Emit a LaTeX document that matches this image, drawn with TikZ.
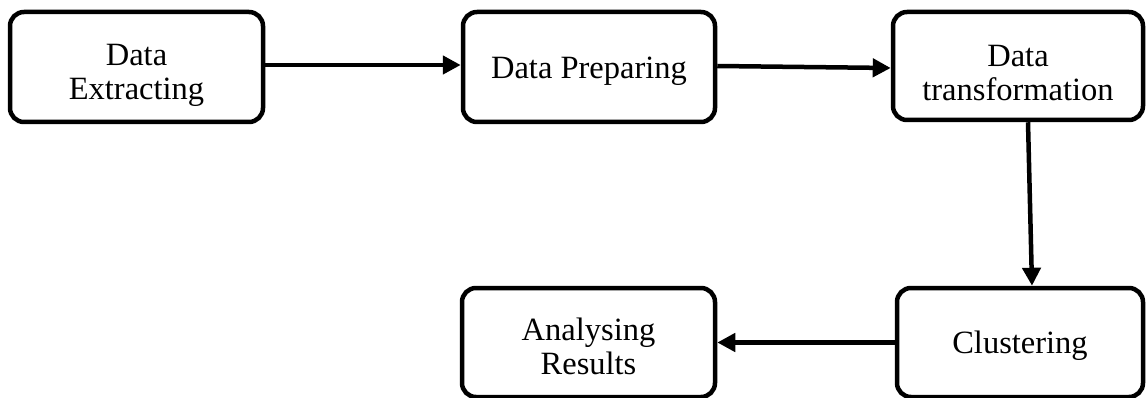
\documentclass[tikz,border=0pt]{standalone}
\usepackage{fontspec}
\setmainfont{Liberation Serif}
\usetikzlibrary{arrows.meta}
\newcommand{\tallfirst}[1]{\rule{0pt}{#1}}
\begin{document}
\begin{tikzpicture}[x=1pt,y=-1pt,
  box/.style={draw=black, line width=4.5pt, rounded corners=14pt, align=center,
    inner sep=0pt, font=\fontsize{32.5}{34}\selectfont},
  onebox/.style={box, execute at begin node={\rule{0pt}{30pt}}},
  conn/.style={line width=4.5pt, -{Triangle[length=18pt,width=18pt]}}]
\useasboundingbox (0,0) rectangle (1146,398);
\node[box, minimum width=253pt, minimum height=110pt] (b1) at (136.5,67) {\tallfirst{38pt}Data\\Extracting};
\node[onebox, minimum width=252pt, minimum height=110pt] (b2) at (589,67) {Data Preparing};
\node[box, minimum width=250pt, minimum height=108pt] (b3) at (1018,66) {\tallfirst{36pt}Data\\transformation};
\node[onebox, minimum width=246pt, minimum height=109pt] (b4) at (1020,342.5) {Clustering};
\node[box, minimum width=253pt, minimum height=109pt] (b5) at (588.5,342.5) {\tallfirst{30pt}Analysing\\Results};
\draw[conn] ([yshift=2pt]b1.east) -- ([yshift=2pt]b2.west);
\draw[conn] ([yshift=1pt]b2.east) -- ([yshift=-2pt]b3.west);
\draw[conn] ([xshift=10pt]b3.south) -- ([xshift=12pt]b4.north);
\draw[conn] (b4.west) -- (b5.east);
\end{tikzpicture}
\end{document}
